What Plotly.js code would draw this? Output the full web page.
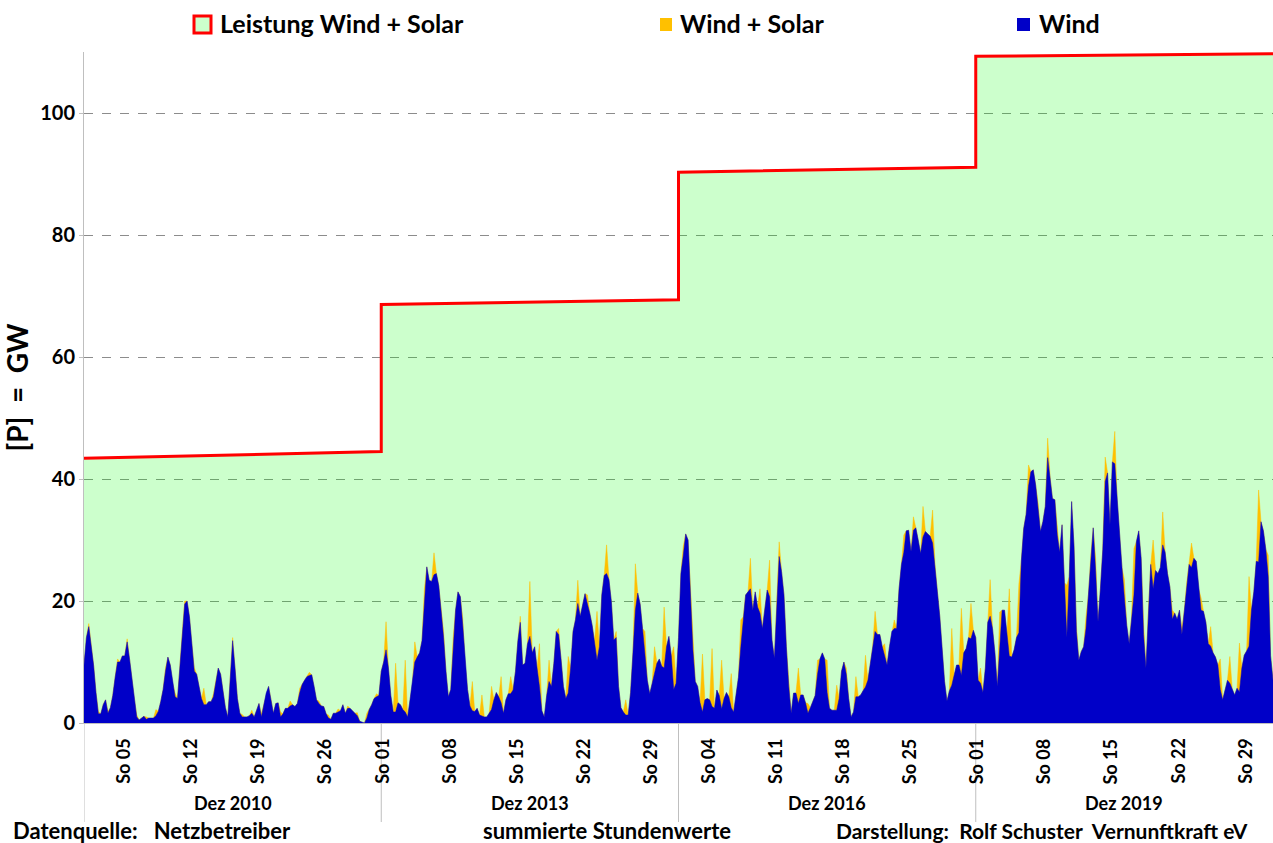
<!DOCTYPE html>
<html>
<head>
<meta charset="utf-8">
<script src="https://cdn.plot.ly/plotly-3.0.1.min.js"></script>
<style>html,body{margin:0;padding:0;background:#fff;}#chart{width:1273px;height:843px;}</style>
</head>
<body>
<div id="chart"></div>
<script>
// ---------- DATA (6-hourly samples: 00,06,12,18 h) ----------
const months = ['Dez 2010', 'Dez 2013', 'Dez 2016', 'Dez 2019'];

// installed capacity wind + solar, GW (start / end of each December)
const capStart = [43.4, 68.6, 90.3, 109.3];
const capEnd   = [44.5, 69.4, 91.1, 109.7];

// wind power, GW, 4 samples per day, 31 days
const wind2010 = [
  9.5,14,15.8,13,  9.5,5,1.5,1.5,  3.0,3.8,1.6,2.5,  4.5,7.5,10,10,  11,11,13.3,10.5,
  7,4,1.0,0.5,  0.8,1.1,0.6,0.8,  0.8,0.8,1.2,1.9,  3.5,5.5,8.5,10.8,  9.5,6.5,4.3,4.0,
  9.5,15,19.5,20,  17.4,13,8.5,8.0,  6.0,4.0,3.0,3.0,  3.5,3.5,4.3,7.0,  9.0,8.0,5.0,2.5,
  1.0,7,13.5,9,  4,1.6,1.0,1.0,  1.0,1.2,1.6,1.0,  2.0,3.2,1.0,3.0,  4.9,6.0,3.5,1.6,
  3.2,3.3,1.0,1.5,  2.4,2.4,2.8,3.0,  2.7,3.2,5.0,6.3,  7.0,7.6,7.8,7.9,  6.0,3.8,3.2,2.8,
  2.7,1.5,0.8,0.6,  1.6,1.6,1.8,2.0,  3.0,1.6,2.4,2.4,  2.0,1.6,1.2,0.3,  0.1,0,0.8,2.2,
  3.0,4.0,4.3,4.5
];
const wind2013 = [
  8.5,10,12,9,  4.5,1.8,1.8,3.3,  3.0,2.2,1.8,1.0,  3.8,6.5,10.0,10.8,  11.5,13.5,20.5,25.6,
  23.4,23.2,24.3,24.5,  22.5,18.5,14,8.5,  4.3,5.5,12,18.5,  21.5,20.7,16,10,  5.5,2.8,2.0,1.9,
  2.4,1.3,1.1,1.0,  1.0,1.5,2.2,3.8,  5.0,4.3,3.3,1.6,  3.8,4.8,4.8,5.4,  8.5,13.5,16.5,9.5,
  9.8,13,14.2,11.5,  12.5,9.0,6.0,2.0,  1.0,4.5,6.8,6.0,  9.8,15,14.5,10.5,  6.0,4.0,4.9,9.0,
  15,16.9,19.6,17.5,  19.3,21.2,19.5,18,  16,13.5,10.3,12.5,  21,24.2,24.5,23.5,  19.9,13.6,14,6.0,
  2.5,1.8,1.3,1.3,  5.0,11.5,18.5,21.3,  19.5,15.5,11.5,7.0,  4.8,6.5,8.5,9.8,  10.5,9.3,9.0,12.5,
  14.2,11,5.5,6.5
];
const wind2016 = [
  14,24.5,27.5,31,  30,22,12,6.8,  6.0,3.3,1.8,3.8,  4.0,3.8,2.7,2.4,  5.4,4.5,2.3,4.0,
  5.0,4.3,2.5,1.8,  4.5,7.5,12.5,17.4,  21.0,21.5,22.0,18.5,  21.5,19.0,18.0,15.5,  18.8,21.8,20.7,13.6,
  10.6,20.2,27.3,24.8,  21,12.5,6.0,1.6,  4.9,4.9,3.2,4.6,  4.6,3.3,1.6,2.5,  3.5,4.5,8.0,10.5,
  11.5,10.5,5.0,2.4,  2.1,2.1,2.1,4.0,  8.5,10.0,8.0,4.0,  1.0,1.8,4.3,4.3,  4.6,5.3,5.9,7.0,
  9.8,12.5,15.0,14.5,  14.5,12.5,11.0,9.5,  12.5,15.0,15.5,15.5,  22,26.0,28.0,31.5,  31.6,28.1,31.6,32.0,
  30.0,27.8,30.5,31.4,  31.0,30.6,29.5,26.0,  21.5,17.5,11.4,6.8,  3.6,5.3,6.2,7.8,  9.5,9.5,7.8,11.5,
  12.2,14.0,13.8,15.2
];
const wind2019 = [
  14,7.0,6.5,5.0,  9.0,16.5,17.5,15.5,  11.5,6.0,11.7,18.5,  18.5,14.5,11.0,10.8,  12.0,14.0,14.8,26.5,
  31.9,34.2,38.8,41.2,  41.5,39,34.6,31.4,  33.0,35.5,43.5,40.5,  36.8,36.6,30.8,28,  32.5,23.0,14.0,24.0,
  36.3,29,15,10.3,  11.7,12.5,15.5,21,  27.5,32.0,25,16.6,  22,28.5,39.6,41.0,  32.5,42.8,42.5,36.5,
  31,25.5,20.5,16.0,  13.0,17.5,21.0,29.7,  31.5,27.0,14.5,9.0,  18.5,26.0,22.0,25.0,  24.5,25.5,29.2,28.0,
  24.5,22.3,17.0,18.0,  17.0,18.5,14.5,18.5,  23.0,26.0,25.5,27.0,  26.5,22.0,18.5,18.3,  16.5,13.0,12.6,11.5,
  10.8,9.5,5.5,3.8,  5.5,7.0,6.5,5.5,  4.6,5.7,5.1,9.0,  11.1,11.8,12.6,18.5,  21.5,26.5,26.4,33,
  31.5,28.5,24,11
];
const windEnd2019 = 7; // value at the right edge (31 Dec 24:00)

// solar contribution at noon (GW), one value per day
const solar2010 = [0.5,0.4,0.3,0.5,0.5,0.3,0.4,1.0,0.5,0.6,0.5,0.6,2.7,0.5,0.4,0.5,0.4,0.5,0.5,0.4,0.8,0.8,0.7,0.5,0.4,0.5,0.5,0.4,0.5,0.8,0.5];
const solar2013 = [4.6,8,8.5,3.3,1.5,3.6,1,2,1.1,4.8,3.5,3.8,4.3,2.8,1,9,7,3.5,1,6,3.8,1.5,8,4.7,1,2.5,7.6,3.5,4,10,7];
const solar2016 = [1.5,1,9.5,9.5,8,5.6,4.4,5,4,6,2.4,1,5.8,1.6,2.3,5.3,4.1,1,3.3,5.2,3.3,2,1.4,2.8,2.2,5,5.4,0.5,9.3,11,5.8];
const solar2019 = [2.5,6,6.5,11,8,3.5,1.5,3.2,0.8,8.6,1,2,2,4,5.3,3,7.6,2,8,5.4,1.5,1,4,2,3.2,5,4.4,8,11.4,11.8,3.5];

// Sunday tick labels (day offset within each December)
const tickDays = [[4,11,18,25],[0,7,14,21,28],[3,10,17,24],[0,7,14,21,28]];
const tickNames = [['So 05','So 12','So 19','So 26'],['So 01','So 08','So 15','So 22','So 29'],['So 04','So 11','So 18','So 25'],['So 01','So 08','So 15','So 22','So 29']];

const legendNames = ['Leistung Wind + Solar', 'Wind + Solar', 'Wind'];
const footLeft = 'Datenquelle:   Netzbetreiber';
const footMid = 'summierte Stundenwerte';
const footRight = 'Darstellung:  Rolf Schuster  Vernunftkraft eV';

// ---------- BUILD ----------
const windSets = [wind2010, wind2013, wind2016, wind2019];
const solarSets = [solar2010, solar2013, solar2016, solar2019];
const DAYS = 31;
let xs = [], yWind = [], yWS = [];
windSets.forEach((w, m) => {
  w.forEach((v, i) => {
    xs.push(m * DAYS + i / 4);
    yWind.push(v);
    const s = (i % 4 === 2) ? solarSets[m][Math.floor(i / 4)] : 0;
    yWS.push(v + s);
  });
});
xs.push(4 * DAYS); yWind.push(windEnd2019); yWS.push(windEnd2019);

let capX = [], capY = [];
capStart.forEach((c, m) => { capX.push(m * DAYS, (m + 1) * DAYS); capY.push(c, capEnd[m]); });

let tv = [], tt = [];
tickDays.forEach((arr, m) => arr.forEach((d, k) => { tv.push(m * DAYS + d); tt.push(tickNames[m][k]); }));

const FONT = 'Lato, "Open Sans", sans-serif';
const L = 84, R = 1273, T = 52, B = 723;
const fx = px => (px - L) / (R - L);
const fy = py => (B - py) / (B - T);

const traces = [
  {x: capX, y: capY, type: 'scatter', mode: 'lines', fill: 'tozeroy',
   fillcolor: 'rgba(0,255,0,0.2)', line: {color: '#ff0000', width: 3}, name: legendNames[0], hoverinfo: 'skip'},
  {x: xs, y: yWS, type: 'scatter', mode: 'lines', fill: 'tozeroy',
   fillcolor: '#ffc000', line: {color: '#ffc000', width: 0.5}, name: legendNames[1]},
  {x: xs, y: yWind, type: 'scatter', mode: 'lines', fill: 'tozeroy',
   fillcolor: '#0000c8', line: {color: '#0000c8', width: 0.5}, name: legendNames[2]}
];

const shapes = [];
const annotations = [];
// Sunday tick labels, rotated, hanging below the axis
tv.forEach((v, k) => {
  annotations.push({xref: 'x', yref: 'paper', x: v, y: fy(737), text: tt[k], textangle: -90,
    showarrow: false, xanchor: 'center', yanchor: 'top',
    font: {family: FONT, size: 18, color: '#000', weight: 'bold'}});
});
// month separators and labels
for (let m = 0; m < 4; m++) {
  shapes.push({type: 'line', xref: 'x', yref: 'paper', x0: m * DAYS, x1: m * DAYS, y0: 0, y1: fy(822),
               line: {color: '#bfbfbf', width: 1}});
  annotations.push({xref: 'x', yref: 'paper', x: m * DAYS + DAYS / 2, y: fy(803), text: months[m],
    showarrow: false, xanchor: 'center', yanchor: 'middle', font: {family: FONT, size: 18, color: '#000', weight: 'bold'}});
}
// footer
annotations.push({xref: 'paper', yref: 'paper', x: fx(11), y: fy(830), text: footLeft, showarrow: false, xanchor: 'left', yanchor: 'middle', font: {family: FONT, size: 22, color: '#000', weight: 'bold'}});
annotations.push({xref: 'paper', yref: 'paper', x: fx(481), y: fy(830), text: footMid, showarrow: false, xanchor: 'left', yanchor: 'middle', font: {family: FONT, size: 22, color: '#000', weight: 'bold'}});
annotations.push({xref: 'paper', yref: 'paper', x: fx(834), y: fy(830), text: footRight, showarrow: false, xanchor: 'left', yanchor: 'middle', font: {family: FONT, size: 21, color: '#000', weight: 'bold'}});

// legend (drawn manually to keep the reference spacing)
shapes.push({type: 'rect', xref: 'paper', yref: 'paper', x0: fx(194), x1: fx(211), y0: fy(33), y1: fy(16),
             line: {color: '#ff0000', width: 3}, fillcolor: '#ccffcc'});
shapes.push({type: 'rect', xref: 'paper', yref: 'paper', x0: fx(660), x1: fx(672), y0: fy(31), y1: fy(18),
             line: {width: 0}, fillcolor: '#ffc000'});
shapes.push({type: 'rect', xref: 'paper', yref: 'paper', x0: fx(1017), x1: fx(1030), y0: fy(31), y1: fy(18),
             line: {width: 0}, fillcolor: '#0000c8'});
[[218, 0], [678, 1], [1037, 2]].forEach(([px, k]) => {
  annotations.push({xref: 'paper', yref: 'paper', x: fx(px), y: fy(23), text: legendNames[k], showarrow: false,
    xanchor: 'left', yanchor: 'middle', font: {family: FONT, size: 25, color: '#000', weight: 'bold'}});
});

const layout = {
  width: 1273, height: 843,
  margin: {l: L, r: 1273 - R, t: T, b: 843 - B, pad: 0},
  paper_bgcolor: '#ffffff', plot_bgcolor: '#ffffff',
  showlegend: false,
  xaxis: {range: [0, 4 * DAYS], tickmode: 'array', tickvals: tv, ticktext: tt, showticklabels: false, ticks: '',
          showgrid: false, zeroline: false, showline: true, linecolor: '#bfbfbf', linewidth: 1, fixedrange: true},
  yaxis: {range: [0, 110], tickmode: 'array', tickvals: [0, 20, 40, 60, 80, 100],
          tickfont: {family: FONT, size: 20, color: '#000', weight: 'bold'},
          ticks: 'outside', ticklen: 4, tickcolor: '#bfbfbf',
          showgrid: true, gridcolor: '#8c8c8c', griddash: 'dash', gridwidth: 1,
          zeroline: false, showline: true, linecolor: '#bfbfbf', linewidth: 1,
          title: {text: '[P]  =  GW', font: {family: FONT, size: 28, color: '#000', weight: 'bold'}, standoff: 6}},
  shapes: shapes,
  annotations: annotations
};

Plotly.newPlot('chart', traces, layout, {displayModeBar: false, staticPlot: true});
</script>
</body>
</html>
